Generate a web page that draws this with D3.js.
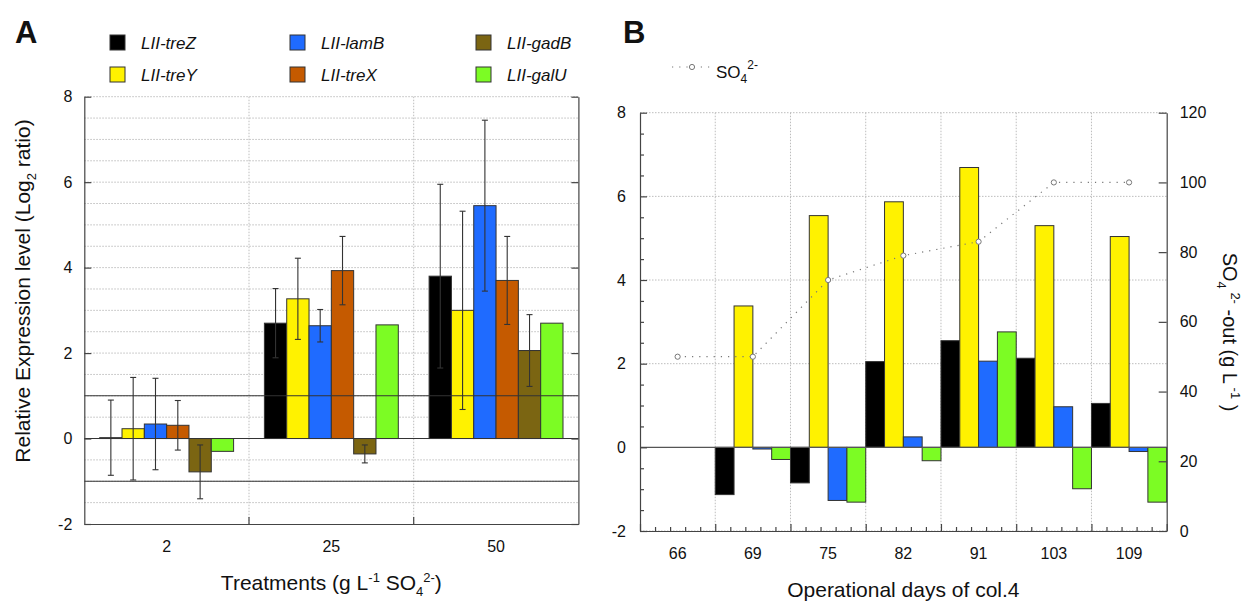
<!DOCTYPE html>
<html><head><meta charset="utf-8">
<script src="https://cdn.jsdelivr.net/npm/d3@7"></script>
<style>
body{margin:0;background:#fff}
svg{display:block}
text{font-family:"Liberation Sans",Arial,sans-serif;fill:#111}
</style>
</head><body>
<svg id="c" width="1247" height="603"></svg>
<script>
// ---------- DATA ----------
const treatments = ["2", "25", "50"];
const genesA = ["LII-treZ", "LII-treY", "LII-lamB", "LII-treX", "LII-gadB", "LII-galU"];
const aTreZ = [0.02, 2.70, 3.80];
const aTreY = [0.23, 3.27, 3.00];
const aLamB = [0.34, 2.64, 5.45];
const aTreX = [0.31, 3.93, 3.70];
const aGadB = [-0.78, -0.36, 2.06];
const aGalU = [-0.30, 2.66, 2.70];
const aTreZErr = [0.88, 0.81, 2.15];
const aTreYErr = [1.20, 0.95, 2.32];
const aLamBErr = [1.07, 0.38, 2.00];
const aTreXErr = [0.58, 0.80, 1.03];
const aGadBErr = [0.63, 0.21, 0.84];
const aGalUErr = [null, null, null];
const aTicks = [-2, 0, 2, 4, 6, 8];

const days = ["66", "69", "75", "82", "91", "103", "109"];
const genesB = ["LII-treZ", "LII-treY", "LII-lamB", "LII-galU"];
const bTreZ = [0, -1.13, -0.85, 2.05, 2.55, 2.13, 1.05];
const bTreY = [0, 3.38, 5.54, 5.87, 6.69, 5.30, 5.04];
const bLamB = [0, -0.04, -1.27, 0.25, 2.06, 0.97, -0.10];
const bGalU = [0, -0.29, -1.31, -0.32, 2.76, -0.99, -1.31];
const so4 = [50, 50, 72, 79, 83, 100, 100];
const bLeftTicks = [-2, 0, 2, 4, 6, 8];
const bRightTicks = [0, 20, 40, 60, 80, 100, 120];

const colors = {
  "LII-treZ": "#000000", "LII-treY": "#FFF200", "LII-lamB": "#1F6BFF",
  "LII-treX": "#C55A00", "LII-gadB": "#7B6512", "LII-galU": "#7CFC24"
};

// ---------- SETUP ----------
const svg = d3.select("#c");
const FR = "#444";
const GRID = "#bdbdbd";
const plain = d => String(d);

function styleAxis(g) {
  g.select(".domain").attr("stroke", FR).attr("stroke-width", 1.2);
  g.selectAll(".tick line").attr("stroke", FR).attr("stroke-width", 1.2);
  g.selectAll(".tick text").style("font-size", "16px").attr("fill", "#111")
    .style("font-family", '"Liberation Sans",Arial,sans-serif');
}

// ================= PANEL A =================
const A = {l: 84.3, r: 578.4, t: 96.7, b: 524};
const xA = d3.scaleBand().domain(treatments).range([A.l, A.r]);
const xAi = d3.scaleBand().domain(genesA).range([0, xA.bandwidth()]).paddingInner(0).paddingOuter(0.69);
const yA = d3.scaleLinear().domain([-2, 8]).range([A.b, A.t]);
const gA = svg.append("g");

gA.append("g").selectAll("line").data(d3.range(-1.5, 8.001, 0.5)).join("line")
  .attr("x1", A.l).attr("x2", A.r).attr("y1", d => yA(d)).attr("y2", d => yA(d))
  .attr("stroke", GRID).attr("stroke-dasharray", "1.5,1.5");
gA.append("g").selectAll("line").data(treatments.slice(1)).join("line")
  .attr("x1", d => xA(d)).attr("x2", d => xA(d)).attr("y1", A.t).attr("y2", A.b)
  .attr("stroke", GRID).attr("stroke-dasharray", "1.5,1.5");

const seriesA = [
  {name: "LII-treZ", v: aTreZ, e: aTreZErr},
  {name: "LII-treY", v: aTreY, e: aTreYErr},
  {name: "LII-lamB", v: aLamB, e: aLamBErr},
  {name: "LII-treX", v: aTreX, e: aTreXErr},
  {name: "LII-gadB", v: aGadB, e: aGadBErr},
  {name: "LII-galU", v: aGalU, e: aGalUErr}
];
const barsA = [];
seriesA.forEach(s => s.v.forEach((v, i) => barsA.push({name: s.name, t: treatments[i], v: v, e: s.e[i]})));

gA.append("g").selectAll("rect").data(barsA).join("rect")
  .attr("x", d => xA(d.t) + xAi(d.name))
  .attr("width", xAi.bandwidth())
  .attr("y", d => yA(Math.max(d.v, 0)))
  .attr("height", d => Math.abs(yA(d.v) - yA(0)))
  .attr("fill", d => colors[d.name]).attr("stroke", "#333").attr("stroke-width", 1);

gA.append("g").selectAll("line").data([-1, 0, 1]).join("line")
  .attr("x1", A.l).attr("x2", A.r).attr("y1", d => yA(d)).attr("y2", d => yA(d))
  .attr("stroke", "#333").attr("stroke-width", 1.1);

const eb = gA.append("g").attr("stroke", "#333").attr("stroke-width", 1.1);
barsA.filter(d => d.e != null).forEach(d => {
  const cx = xA(d.t) + xAi(d.name) + xAi.bandwidth() / 2;
  const y1 = yA(d.v + d.e), y2 = yA(d.v - d.e);
  eb.append("line").attr("x1", cx).attr("x2", cx).attr("y1", y1).attr("y2", y2);
  eb.append("line").attr("x1", cx - 3).attr("x2", cx + 3).attr("y1", y1).attr("y2", y1);
  eb.append("line").attr("x1", cx - 3).attr("x2", cx + 3).attr("y1", y2).attr("y2", y2);
});

gA.append("g").attr("transform", `translate(${A.l},0)`)
  .call(d3.axisLeft(yA).tickValues(aTicks).tickSize(-7).tickSizeOuter(0).tickPadding(12).tickFormat(plain))
  .call(styleAxis);
gA.append("g").attr("transform", `translate(${A.r},0)`)
  .call(d3.axisRight(yA).tickValues(aTicks).tickSize(-7).tickSizeOuter(0).tickFormat(""))
  .call(styleAxis);
gA.append("g").attr("transform", `translate(0,${A.b})`)
  .call(d3.axisBottom(xA).tickSize(0).tickSizeOuter(0).tickPadding(17))
  .call(styleAxis);
gA.append("g").selectAll("line").data(treatments.slice(1)).join("line")
  .attr("x1", d => xA(d)).attr("x2", d => xA(d)).attr("y1", A.b).attr("y2", A.b - 7)
  .attr("stroke", FR).attr("stroke-width", 1.2);

svg.append("text").attr("x", 15).attr("y", 43).style("font-size", "31px").style("font-weight", "bold").text("A");
const tA = svg.append("text").attr("x", (A.l + A.r) / 2).attr("y", 590).attr("text-anchor", "middle").style("font-size", "21px");
tA.append("tspan").text("Treatments (g L");
tA.append("tspan").attr("dy", -8).style("font-size", "13px").text("-1");
tA.append("tspan").attr("dy", 8).text(" SO");
tA.append("tspan").attr("dy", 6).style("font-size", "13px").text("4");
tA.append("tspan").attr("dy", -14).style("font-size", "13px").text("2-");
tA.append("tspan").attr("dy", 8).text(")");

const yTA = svg.append("text").attr("transform", "translate(30,291) rotate(-90)").attr("text-anchor", "middle").style("font-size", "21px");
yTA.append("tspan").text("Relative Expression level (Log");
yTA.append("tspan").attr("dy", 6).style("font-size", "13px").text("2");
yTA.append("tspan").attr("dy", -6).text(" ratio)");

const legA = [
  {name: "LII-treZ", x: 110, y: 35}, {name: "LII-lamB", x: 290, y: 35}, {name: "LII-gadB", x: 476, y: 35},
  {name: "LII-treY", x: 110, y: 67}, {name: "LII-treX", x: 290, y: 67}, {name: "LII-galU", x: 476, y: 67}
];
const lg = svg.append("g");
legA.forEach(d => {
  lg.append("rect").attr("x", d.x).attr("y", d.y).attr("width", 15).attr("height", 15)
    .attr("fill", colors[d.name]).attr("stroke", "#333").attr("stroke-width", 1);
  lg.append("text").attr("x", d.x + 31).attr("y", d.y + 14).style("font-size", "17px").style("font-style", "italic").text(d.name);
});

// ================= PANEL B =================
const B = {l: 640, r: 1166.7, t: 112.7, b: 531};
const xB = d3.scaleBand().domain(days).range([B.l, B.r]);
const xBi = d3.scaleBand().domain(genesB).range([0, xB.bandwidth()]).padding(0);
const yB = d3.scaleLinear().domain([-2, 8]).range([B.b, B.t]);
const yR = d3.scaleLinear().domain([0, 120]).range([B.b, B.t]);
const xBl = d3.scaleLinear().domain([0, days.length]).range([B.l, B.r]);
const gB = svg.append("g");

gB.append("g").selectAll("line").data([-2, 2, 4, 6, 8]).join("line")
  .attr("x1", B.l).attr("x2", B.r).attr("y1", d => yB(d)).attr("y2", d => yB(d))
  .attr("stroke", GRID).attr("stroke-dasharray", "1.5,1.5");
gB.append("g").selectAll("line").data(days.slice(1)).join("line")
  .attr("x1", d => xB(d)).attr("x2", d => xB(d)).attr("y1", B.t).attr("y2", B.b)
  .attr("stroke", GRID).attr("stroke-dasharray", "1.5,1.5");

const seriesB = [
  {name: "LII-treZ", v: bTreZ}, {name: "LII-treY", v: bTreY},
  {name: "LII-lamB", v: bLamB}, {name: "LII-galU", v: bGalU}
];
const barsB = [];
seriesB.forEach(s => s.v.forEach((v, i) => { if (v !== 0) barsB.push({name: s.name, t: days[i], v: v}); }));
gB.append("g").selectAll("rect").data(barsB).join("rect")
  .attr("x", d => xB(d.t) + xBi(d.name))
  .attr("width", xBi.bandwidth())
  .attr("y", d => yB(Math.max(d.v, 0)))
  .attr("height", d => Math.abs(yB(d.v) - yB(0)))
  .attr("fill", d => colors[d.name]).attr("stroke", "#333").attr("stroke-width", 1);

gB.append("line").attr("x1", B.l).attr("x2", B.r).attr("y1", yB(0)).attr("y2", yB(0))
  .attr("stroke", "#555").attr("stroke-width", 1.2);

const line = d3.line().x((d, i) => xB(days[i]) + xB.bandwidth() / 2).y(d => yR(d));
gB.append("path").datum(so4).attr("d", line).attr("fill", "none")
  .attr("stroke", "#777").attr("stroke-width", 1.2).attr("stroke-dasharray", "1.2,6");
gB.append("g").selectAll("circle").data(so4).join("circle")
  .attr("cx", (d, i) => xB(days[i]) + xB.bandwidth() / 2).attr("cy", d => yR(d)).attr("r", 2.6)
  .attr("fill", "#fff").attr("stroke", "#777").attr("stroke-width", 1);

const axL = gB.append("g").attr("transform", `translate(${B.l},0)`)
  .call(d3.axisLeft(yB).tickValues(d3.range(-2, 8.001, 0.5)).tickSize(-4).tickSizeOuter(0).tickPadding(14)
    .tickFormat(d => (bLeftTicks.includes(d) ? String(d) : "")))
  .call(styleAxis);
axL.selectAll(".tick").filter(d => bLeftTicks.includes(d)).select("line").attr("x2", 7);
gB.append("g").attr("transform", `translate(${B.r},0)`)
  .call(d3.axisRight(yR).tickValues(bRightTicks).tickSize(-8).tickSizeOuter(0).tickPadding(13).tickFormat(plain))
  .call(styleAxis);
const axB = gB.append("g").attr("transform", `translate(0,${B.b})`)
  .call(d3.axisBottom(xBl).tickValues(d3.range(0, days.length * 5 + 1).map(k => k / 5)).tickSize(-4).tickSizeOuter(0).tickFormat(""))
  .call(styleAxis);
axB.selectAll(".tick").filter(d => Math.abs(d - Math.round(d)) < 1e-6).select("line").attr("y2", -7);
gB.append("g").attr("transform", `translate(0,${B.b})`)
  .call(d3.axisBottom(xB).tickSize(0).tickSizeOuter(0).tickPadding(17))
  .call(g => g.select(".domain").remove())
  .call(styleAxis);

svg.append("text").attr("x", 623).attr("y", 43).style("font-size", "31px").style("font-weight", "bold").text("B");
svg.append("text").attr("x", (B.l + B.r) / 2).attr("y", 597).attr("text-anchor", "middle").style("font-size", "21px")
  .text("Operational days of col.4");
const yTR = svg.append("text").attr("transform", "translate(1223,332) rotate(90)").attr("text-anchor", "middle").style("font-size", "20px");
yTR.append("tspan").text("SO");
yTR.append("tspan").attr("dy", 6).style("font-size", "13px").text("4");
yTR.append("tspan").attr("dy", -14).style("font-size", "13px").text(" 2-");
yTR.append("tspan").attr("dy", 8).text(" -out (g L");
yTR.append("tspan").attr("dy", -8).style("font-size", "13px").text(" -1");
yTR.append("tspan").attr("dy", 8).text(" )");

const lb = svg.append("g");
lb.append("line").attr("x1", 672).attr("x2", 710).attr("y1", 67).attr("y2", 67)
  .attr("stroke", "#777").attr("stroke-width", 1.2).attr("stroke-dasharray", "1.2,6");
lb.append("circle").attr("cx", 692).attr("cy", 67).attr("r", 2.6).attr("fill", "#fff").attr("stroke", "#777");
const lt = lb.append("text").attr("x", 716).attr("y", 78).style("font-size", "17px");
lt.append("tspan").text("SO");
lt.append("tspan").attr("dy", 5).style("font-size", "12px").text("4");
lt.append("tspan").attr("dy", -14).style("font-size", "12px").text("2-");
</script>
</body></html>
